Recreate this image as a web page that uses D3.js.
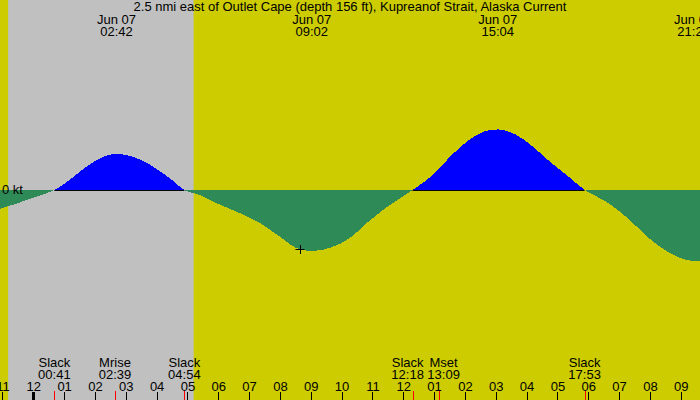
<!DOCTYPE html>
<html>
<head>
<meta charset="utf-8">
<script src="https://cdn.jsdelivr.net/npm/d3@7"></script>
<style>
  body { margin: 0; background: #ffffff; }
  svg { display: block; }
</style>
</head>
<body>
<div id="vis0"></div>
<script>
// Colour codes.
const dayColor = "#cccc00";
const nightColor = "#c0c0c0";
const floodColor = "#0000ff";
const ebbColor = "#2e8b57";
const textColor = "#000000";
const eventColor = "#ff0000";
const fontFamily = "'Liberation Sans', Arial, sans-serif";
const fontSize = "13px";

const title = "2.5 nmi east of Outlet Cape (depth 156 ft), Kupreanof Strait, Alaska Current";

// Hours counted from midnight Jun 07, current in knots (flood +, ebb -).
const curveHours = [-1.2, -0.6, 0.0, 0.683, 1.0, 1.5, 2.0, 2.7, 3.0, 3.5, 4.0, 4.5, 4.9,
  5.41, 5.83, 6.7, 7.35, 8.0, 8.65, 9.07, 9.62, 10.27, 10.82, 11.47, 12.3,
  12.96, 13.52, 14.06, 14.59, 15.07, 15.68, 16.21, 16.76, 17.3, 17.883,
  18.48, 19.03, 19.57, 20.1, 20.65, 21.19, 21.45, 21.7, 22.0];
const curveKnots = [-0.67, -0.47, -0.26, 0, 0.2, 0.6, 0.97, 1.2, 1.17, 1.0, 0.7, 0.33, 0,
  -0.17, -0.39, -0.77, -1.1, -1.56, -1.98, -2.03, -1.93, -1.6, -1.1, -0.57, 0,
  0.5, 1.11, 1.61, 1.94, 2.02, 1.83, 1.44, 0.94, 0.5, 0,
  -0.33, -0.72, -1.22, -1.72, -2.1, -2.33, -2.37, -2.37, -2.35];

// Strongest flood and ebb, labelled along the top.
const maxHours = [2.7, 9.033, 15.067, 21.417];
const maxDates = ["Jun 07", "Jun 07", "Jun 07", "Jun 07"];
const maxTimes = ["02:42", "09:02", "15:04", "21:25"];

// Slack water and moon events, labelled along the bottom.
const eventHours = [0.683, 2.65, 4.9, 12.3, 13.15, 17.883];
const eventNames = ["Slack", "Mrise", "Slack", "Slack", "Mset", "Slack"];
const eventTimes = ["00:41", "02:39", "04:54", "12:18", "13:09", "17:53"];

// Flood periods, underlined at zero.
const floodStarts = [0.683, 12.3];
const floodEnds = [4.9, 17.883];

// Night (sunset Jun 06 23:11, sunrise 05:12).
const sunsetHour = -0.817;
const sunriseHour = 5.2;

// Hour ticks along the bottom.
const tickHours = [-1, 0, 1, 2, 3, 4, 5, 6, 7, 8, 9, 10, 11, 12, 13, 14, 15, 16, 17, 18, 19, 20, 21];
const tickLabels = ["11", "12", "01", "02", "03", "04", "05", "06", "07", "08", "09", "10", "11",
  "12", "01", "02", "03", "04", "05", "06", "07", "08", "09"];

// Current position marker.
const nowHour = 8.65;
const nowKnots = -1.98;

// Dimensions.
var width = 700,
    height = 400;

var svg = d3.select("#vis0")
  .append("svg")
    .attr("width", width)
    .attr("height", height);

var x = d3.scaleLinear()
  .domain([-1.08, 21.625])
  .range([0, width]);

var y = d3.scaleLinear()
  .domain([-7, 6.333])
  .range([height, 0]);

// Day and night background.
svg.append("rect")
    .attr("width", width)
    .attr("height", height)
    .style("fill", dayColor);

svg.append("rect")
    .attr("x", x(sunsetHour))
    .attr("y", 0)
    .attr("width", x(sunriseHour) - x(sunsetHour))
    .attr("height", height)
    .style("fill", nightColor);

// Clip the filled curve above and below zero.
var defs = svg.append("defs");
defs.append("clipPath").attr("id", "above")
  .append("rect")
    .attr("x", 0).attr("y", 0)
    .attr("width", width).attr("height", y(0));
defs.append("clipPath").attr("id", "below")
  .append("rect")
    .attr("x", 0).attr("y", y(0))
    .attr("width", width).attr("height", height - y(0));

var points = curveHours.map((h, i) => [h, curveKnots[i]]);

var area = d3.area()
  .x(d => x(d[0]))
  .y0(y(0))
  .y1(d => y(d[1]))
  .curve(d3.curveMonotoneX);

svg.append("path")
    .datum(points)
    .attr("d", area)
    .attr("clip-path", "url(#above)")
    .attr("shape-rendering", "crispEdges")
    .style("fill", floodColor);

svg.append("path")
    .datum(points)
    .attr("d", area)
    .attr("clip-path", "url(#below)")
    .attr("shape-rendering", "crispEdges")
    .style("fill", ebbColor);

// Zero line under each flood.
floodStarts.forEach(function(s, i) {
  svg.append("line")
      .attr("x1", x(s))
      .attr("x2", x(floodEnds[i]))
      .attr("y1", y(0) + 0.5)
      .attr("y2", y(0) + 0.5)
      .style("stroke", textColor)
      .style("stroke-width", 1);
});

svg.append("text")
    .attr("x", 2)
    .attr("y", y(0) + 4)
    .style("font-family", fontFamily)
    .style("font-size", fontSize)
    .style("fill", textColor)
    .text("0 kt");

// Current position marker.
svg.append("path")
    .attr("transform", "translate(" + Math.round(x(nowHour)) + "," + Math.round(y(nowKnots)) + ")")
    .attr("d", "M-4.5,0.5H4.5M0.5,-4V5")
    .style("stroke", textColor)
    .style("stroke-width", 1)
    .style("fill", "none");

// Title.
svg.append("text")
    .attr("x", width / 2)
    .attr("y", 11)
    .attr("text-anchor", "middle")
    .style("font-family", fontFamily)
    .style("font-size", fontSize)
    .style("fill", textColor)
    .text(title);

// Max current labels.
maxHours.forEach(function(h, i) {
  var g = svg.append("g")
    .attr("transform", "translate(" + x(h) + ",0)")
    .style("font-family", fontFamily)
    .style("font-size", fontSize)
    .style("fill", textColor)
    .attr("text-anchor", "middle");
  g.append("text").attr("y", 24).text(maxDates[i]);
  g.append("text").attr("y", 36).text(maxTimes[i]);
});

// Hour axis.
var axis = svg.append("g")
    .attr("transform", "translate(0," + height + ")")
    .call(d3.axisTop(x)
      .tickValues(tickHours)
      .tickFormat((d, i) => tickLabels[i])
      .tickSize(8)
      .tickPadding(1.5))
    .call(g => g.select(".domain").remove());

axis.selectAll("text")
    .style("font-family", fontFamily)
    .style("font-size", fontSize)
    .style("fill", textColor);

axis.selectAll("line")
    .attr("shape-rendering", "crispEdges")
    .style("stroke", textColor);

axis.selectAll(".tick")
    .filter(d => d === 0)
    .select("line")
    .style("stroke-width", 3);

// Event ticks and labels, pushed apart where they crowd.
var eventX = eventHours.map(h => x(h));
var labelX = eventX.slice();
var minGap = 36;
for (var i = 1; i < labelX.length; i++) {
  var gap = labelX[i] - labelX[i - 1];
  if (gap < minGap) {
    labelX[i - 1] -= (minGap - gap) / 2;
    labelX[i] += (minGap - gap) / 2;
  }
}

eventX.forEach(function(ex, i) {
  svg.append("line")
      .attr("x1", Math.round(ex) + 0.5)
      .attr("x2", Math.round(ex) + 0.5)
      .attr("y1", height - 9)
      .attr("y2", height)
      .style("stroke", eventColor)
      .style("stroke-width", 1);

  var g = svg.append("g")
    .attr("transform", "translate(" + labelX[i] + ",0)")
    .style("font-family", fontFamily)
    .style("font-size", fontSize)
    .style("fill", textColor)
    .attr("text-anchor", "middle");
  g.append("text").attr("y", 366.5).text(eventNames[i]);
  g.append("text").attr("y", 378.5).text(eventTimes[i]);
});
</script>
</body>
</html>
